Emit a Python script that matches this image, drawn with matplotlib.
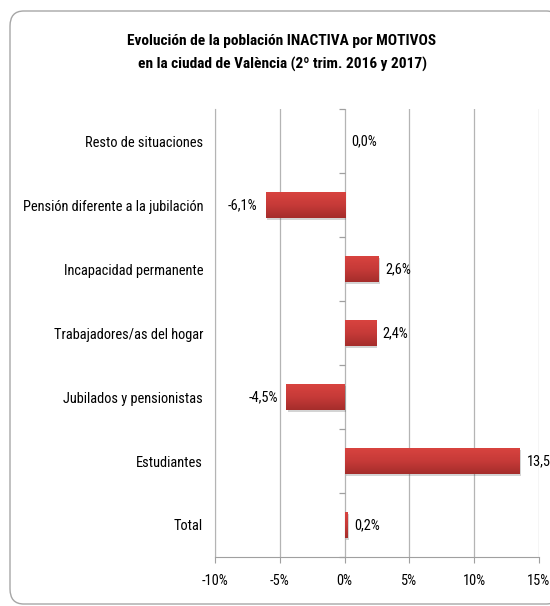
import matplotlib
matplotlib.use("Agg")
import matplotlib.pyplot as plt
from matplotlib.patches import FancyBboxPatch
from matplotlib.colors import LinearSegmentedColormap
import matplotlib.patheffects as pe
from matplotlib import font_manager
import numpy as np

categories = ["Resto de situaciones", "Pensión diferente a la jubilación",
              "Incapacidad permanente", "Trabajadores/as del hogar",
              "Jubilados y pensionistas", "Estudiantes", "Total"]
values = [0.0, -6.1, 2.6, 2.4, -4.5, 13.5, 0.2]
xticks = [-10, -5, 0, 5, 10, 15]
title = "Evolución de la población INACTIVA por MOTIVOS\nen la ciudad de València (2º trim. 2016 y 2017)"

names = {f.name for f in font_manager.fontManager.ttflist}
fam = "DejaVu Sans"
for cand in ["Liberation Sans Narrow", "Roboto Condensed", "Open Sans Condensed",
             "Noto Sans Condensed", "Lato", "Liberation Sans"]:
    if cand in names:
        fam = cand
        break
plt.rcParams['font.family'] = [fam, 'DejaVu Sans']

fig = plt.figure(figsize=(5.5, 6.06), dpi=100)
renderer = fig.canvas.get_renderer()

# fit font size so the longest label is ~181 px wide, as in the reference
t = fig.text(0, 0, categories[1], fontsize=10)
w = t.get_window_extent(renderer).width
t.remove()
fs = 10 * 181 / w
t = fig.text(0, 0, title.split("\n")[0], fontsize=10, fontweight='bold')
wt = t.get_window_extent(renderer).width
t.remove()
fst = 10 * 311 / wt

frame = FancyBboxPatch((10/550, 2/606), 1.0, 1 - 13/606,
                       boxstyle="round,pad=0,rounding_size=0.025",
                       transform=fig.transFigure, facecolor="white",
                       edgecolor="#a6a6a6", linewidth=1.0, zorder=-5)
fig.patches.append(frame)

ax = fig.add_axes([215/550, 1 - 557/606, (539 - 215)/550, (557 - 109)/606])
ax.set_zorder(2)
ax.set_facecolor("none")
n = len(categories)
ypos = np.arange(n)
bars = ax.barh(ypos, values, height=0.4, color="#c43a3a", edgecolor="none",
               linewidth=0, zorder=3)
for b in bars:
    b.set_path_effects([pe.SimplePatchShadow(offset=(1.2, -1.5), alpha=0.25,
                                             shadow_rgbFace="#555555"),
                        pe.Normal()])

cmap = LinearSegmentedColormap.from_list("bar", ["#d8433f", "#c63a38", "#a52d2b"])
grad = np.linspace(0, 1, 64).reshape(-1, 1)
for b in bars:
    bx, by = b.get_x(), b.get_y()
    bw, bh = b.get_width(), b.get_height()
    if bw == 0:
        continue
    im = ax.imshow(grad, cmap=cmap, aspect='auto', origin='upper',
                   extent=[bx, bx + bw, by + bh, by], zorder=3.5,
                   interpolation='bilinear')
    im.set_clip_path(b)

ax.set_ylim(n - 0.5, -0.5)
ax.set_xlim(xticks[0], xticks[-1])
ax.set_xticks(xticks)
ax.set_xticklabels([f"{t}%" for t in xticks], fontsize=fs)
ax.set_yticks(ypos)
ax.set_yticklabels(categories, fontsize=fs)
ax.tick_params(axis='y', length=0, pad=8.6)
ax.tick_params(axis='x', length=4, color="#a0a0a0", pad=8)
ax.grid(axis='x', color="#b4b4b4", linewidth=0.9, zorder=0)
for s in ['top', 'right']:
    ax.spines[s].set_visible(False)
ax.spines['left'].set_color("#b4b4b4")
ax.spines['bottom'].set_color("#a0a0a0")

# category tick marks on the vertical axis at 0
bounds = np.arange(n + 1) - 0.5
ax.plot(np.zeros(n + 1), bounds, linestyle='none', marker=0, markersize=4,
        markeredgecolor="#a0a0a0", markeredgewidth=0.9, zorder=2, clip_on=False)

for y, v in zip(ypos, values):
    lab = f"{v:.1f}".replace(".", ",") + "%"
    if v < 0:
        ax.annotate(lab, (v, y), xytext=(-6, 0), textcoords='offset points',
                    ha='right', va='center', fontsize=fs)
    else:
        ax.annotate(lab, (v, y), xytext=(5, 0), textcoords='offset points',
                    ha='left', va='center', fontsize=fs, annotation_clip=False)

fig.text(282/550, 1 - 53/606, title, ha='center', va='center',
         fontsize=fst, fontweight='bold', linespacing=1.7)

fig.savefig("out.png", dpi=100)
